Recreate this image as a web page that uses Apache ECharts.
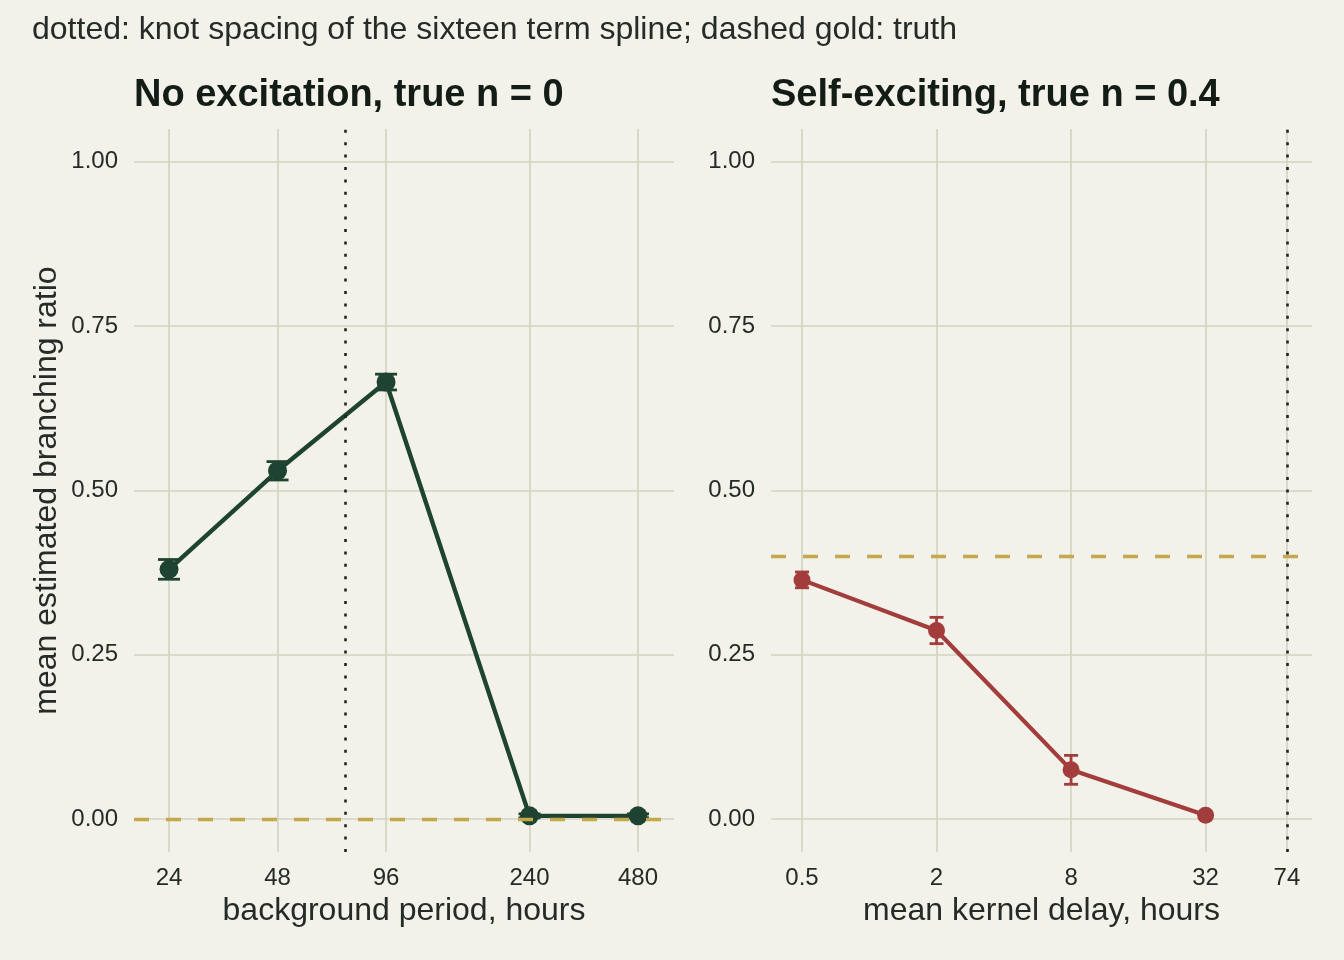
<!DOCTYPE html>
<html>
<head>
<meta charset="utf-8">
<script src="https://cdn.jsdelivr.net/npm/echarts@6/dist/echarts.min.js"></script>
<style>
  html, body { margin: 0; padding: 0; background: #F2F1EA; }
  #chart { width: 1344px; height: 960px; }
</style>
</head>
<body>
<div id="chart"></div>
<script>
// panel 1: no excitation, x = background period (hours)
var periods = [24, 48, 96, 240, 480];
var periodMean = [0.380, 0.530, 0.665, 0.005, 0.005];
var periodErr = [0.015, 0.014, 0.012, 0.003, 0.003];
var periodTicks = [24, 48, 96, 240, 480];

// panel 2: self-exciting, x = mean kernel delay (hours)
var delays = [0.5, 2, 8, 32];
var delayMean = [0.364, 0.287, 0.075, 0.006];
var delayErr = [0.012, 0.020, 0.022, 0.002];
var delayTicks = [0.5, 2, 8, 32, 74];

var yTicks = [0, 0.25, 0.5, 0.75, 1];
var knotSpacing = 74;
var truthLeft = 0;
var truthRight = 0.4;

var bg = '#F2F1EA';
var gridColor = '#D3D2C0';
var green = '#1F4331';
var red = '#A33D3C';
var gold = '#C2A94C';
var textColor = '#252B26';
var font = 'Liberation Sans';

var myChart = echarts.init(document.getElementById('chart'), null, { renderer: 'canvas' });

function pairs(xs, ys) {
    return xs.map(function(x, i) { return [x, ys[i]]; });
}

function errRows(xs, ys, es) {
    return xs.map(function(x, i) { return [x, ys[i] - es[i], ys[i] + es[i]]; });
}

// vertical bar with caps, cap width in pixels
function errorBars(color, capWidth) {
    return function(params, api) {
        var x = api.value(0);
        var lo = api.coord([x, api.value(1)]);
        var hi = api.coord([x, api.value(2)]);
        var h = capWidth / 2;
        var style = { stroke: color, lineWidth: 2.8 };
        return {
            type: 'group',
            children: [
                { type: 'line', shape: { x1: lo[0], y1: lo[1], x2: hi[0], y2: hi[1] }, style: style },
                { type: 'line', shape: { x1: lo[0] - h, y1: lo[1], x2: lo[0] + h, y2: lo[1] }, style: style },
                { type: 'line', shape: { x1: hi[0] - h, y1: hi[1], x2: hi[0] + h, y2: hi[1] }, style: style }
            ]
        };
    };
}

function fmtNum(v) {
    return String(+(+v).toPrecision(6));
}

function xAxis(idx, ticks, min, max, name) {
    return {
        type: 'log',
        logBase: 2,
        gridIndex: idx,
        min: min,
        max: max,
        name: name,
        nameLocation: 'middle',
        nameGap: 43,
        nameTextStyle: { fontSize: 32, color: textColor, fontFamily: font },
        axisLine: { show: false },
        axisTick: { show: false, customValues: ticks },
        axisLabel: {
            customValues: ticks,
            formatter: fmtNum,
            fontSize: 24,
            color: textColor,
            margin: 14,
            fontFamily: font
        },
        splitLine: { show: true, lineStyle: { color: gridColor, width: 1.6 } },
        minorSplitLine: { show: false }
    };
}

function yAxis(idx, name) {
    return {
        type: 'value',
        gridIndex: idx,
        min: -0.05,
        max: 1.05,
        name: name,
        nameLocation: 'middle',
        nameRotate: 90,
        nameGap: 71,
        nameTextStyle: { fontSize: 32, color: textColor, fontFamily: font },
        axisLine: { show: false },
        axisTick: { show: false, customValues: yTicks },
        axisLabel: {
            customValues: yTicks,
            formatter: function(v) { return (+v).toFixed(2); },
            fontSize: 24,
            color: textColor,
            margin: 16,
            fontFamily: font
        },
        splitLine: { show: true, lineStyle: { color: gridColor, width: 1.6 } }
    };
}

function refLines(idx, truth) {
    return {
        type: 'line',
        xAxisIndex: idx,
        yAxisIndex: idx,
        data: [],
        z: 1,
        silent: true,
        markLine: {
            silent: true,
            symbol: 'none',
            label: { show: false },
            emphasis: { disabled: true },
            data: [
                { yAxis: truth, lineStyle: { color: gold, width: 3.4, type: [15, 17], cap: 'butt' } },
                { xAxis: knotSpacing, lineStyle: { color: '#222222', width: 2.6, type: [3, 9.4], cap: 'butt' } }
            ]
        }
    };
}

var option = {
    backgroundColor: bg,
    animation: false,
    title: [
        {
            text: 'dotted: knot spacing of the sixteen term spline; dashed gold: truth',
            left: 27, top: 9,
            textStyle: { fontSize: 32, fontWeight: 'normal', color: textColor, fontFamily: font }
        },
        {
            text: 'No excitation, true n = 0',
            left: 129, top: 72,
            textStyle: { fontSize: 38, fontWeight: 'bold', color: '#141C16', fontFamily: font }
        },
        {
            text: 'Self-exciting, true n = 0.4',
            left: 766, top: 72,
            textStyle: { fontSize: 38, fontWeight: 'bold', color: '#141C16', fontFamily: font }
        }
    ],
    grid: [
        { left: 134, right: 670, top: 129, bottom: 108 },
        { left: 771, right: 32, top: 129, bottom: 108 }
    ],
    xAxis: [
        xAxis(0, periodTicks, 19.19, 604, 'background period, hours'),
        xAxis(1, delayTicks, 0.3633, 95.8, 'mean kernel delay, hours')
    ],
    yAxis: [
        yAxis(0, 'mean estimated branching ratio'),
        yAxis(1, '')
    ],
    series: [
        refLines(0, truthLeft),
        refLines(1, truthRight),
        {
            type: 'custom',
            xAxisIndex: 0, yAxisIndex: 0,
            z: 3,
            renderItem: errorBars(green, 22),
            encode: { x: 0, y: [1, 2] },
            data: errRows(periods, periodMean, periodErr)
        },
        {
            type: 'line',
            xAxisIndex: 0, yAxisIndex: 0,
            z: 4,
            data: pairs(periods, periodMean),
            symbol: 'circle',
            symbolSize: 19,
            itemStyle: { color: green },
            lineStyle: { color: green, width: 4.4 },
            emphasis: { disabled: true }
        },
        {
            type: 'custom',
            xAxisIndex: 1, yAxisIndex: 1,
            z: 3,
            renderItem: errorBars(red, 14),
            encode: { x: 0, y: [1, 2] },
            data: errRows(delays, delayMean, delayErr)
        },
        {
            type: 'line',
            xAxisIndex: 1, yAxisIndex: 1,
            z: 4,
            data: pairs(delays, delayMean),
            symbol: 'circle',
            symbolSize: 17,
            itemStyle: { color: red },
            lineStyle: { color: red, width: 4.2 },
            emphasis: { disabled: true }
        }
    ]
};

myChart.setOption(option);

window.addEventListener('resize', function() {
    myChart.resize();
});
</script>
</body>
</html>
